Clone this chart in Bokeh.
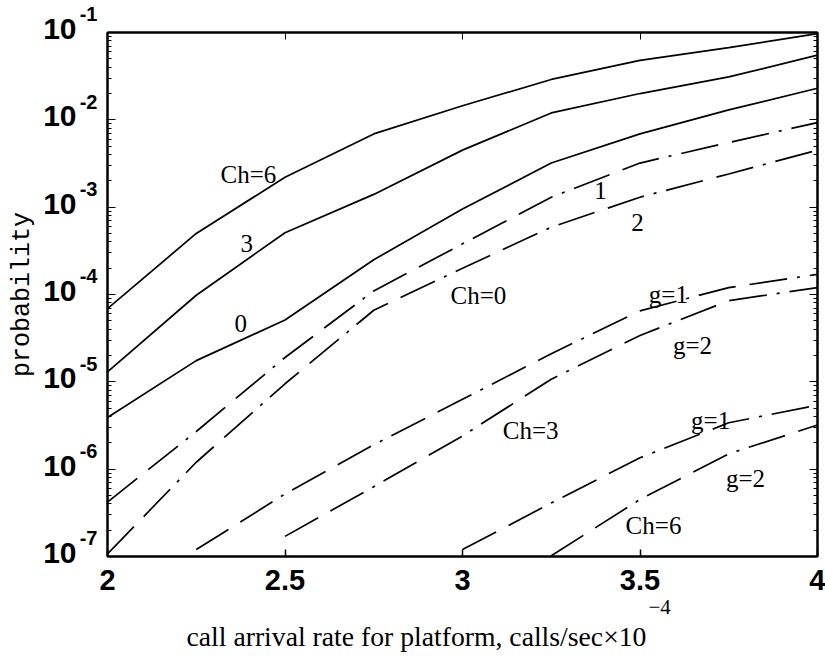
import math
from bokeh.plotting import figure
from bokeh.models import (Label, LogAxis, LinearAxis, FixedTicker, LogTicker, Range1d,
                          CustomJSTickFormatter, Title)
from bokeh.embed import file_html
from bokeh.resources import INLINE

nan = float("nan")

# call arrival rate (x 1e-4 calls/sec)
x_rate = [2.0, 2.25, 2.5, 2.75, 3.0, 3.25, 3.5, 3.75, 4.0]

# solid curves (Ch = 6, 3, 0)
solid_ch6 = [6.9e-5, 5.0e-4, 2.2e-3, 6.9e-3, 1.45e-2, 2.9e-2, 4.8e-2, 6.7e-2, 9.7e-2]
solid_ch3 = [1.3e-5, 9.8e-5, 5.1e-4, 1.4e-3, 4.5e-3, 1.2e-2, 2.0e-2, 3.1e-2, 5.5e-2]
solid_ch0 = [3.9e-6, 1.75e-5, 5.1e-5, 2.5e-4, 9.5e-4, 3.2e-3, 6.9e-3, 1.3e-2, 2.3e-2]

# dashed curves (g = 1, 2) for Ch = 0, 3, 6
ch0_g1 = [4.2e-7, 2.7e-6, 1.9e-5, 1.1e-4, 3.8e-4, 1.3e-3, 3.2e-3, 5.5e-3, 9.3e-3]
ch0_g2 = [1.07e-7, 1.2e-6, 9.5e-6, 6.6e-5, 2.0e-4, 5.9e-4, 1.3e-3, 2.4e-3, 4.5e-3]
ch3_g1 = [nan, 1.2e-7, 5.2e-7, 1.9e-6, 6.3e-6, 2.1e-5, 6.5e-5, 1.2e-4, 1.7e-4]
ch3_g2 = [nan, nan, 1.7e-7, 6.3e-7, 2.4e-6, 1.07e-5, 3.4e-5, 8.5e-5, 1.2e-4]
ch6_g1 = [nan, nan, nan, nan, 1.2e-7, 4.1e-7, 1.35e-6, 3.4e-6, 5.4e-6]
ch6_g2 = [nan, nan, nan, nan, nan, 1.02e-7, 4.5e-7, 1.5e-6, 3.2e-6]

# curve annotations: text, x, y
curve_texts = ["Ch=6", "3", "0", "1", "2", "Ch=0", "g=1", "g=2", "Ch=3", "g=1", "g=2", "Ch=6"]
curve_text_x = [2.397, 2.392, 2.375, 3.389, 3.493, 3.045, 3.580, 3.648, 3.192, 3.699, 3.797, 3.538]
curve_text_y = [2.37e-3, 3.8e-4, 4.7e-5, 1.55e-3, 6.7e-4, 9.7e-5, 1.0e-4, 2.6e-5, 2.8e-6, 3.6e-6, 7.8e-7, 2.26e-7]

x_ticks = [2, 2.5, 3, 3.5, 4]
x_tick_labels = ["2", "2.5", "3", "3.5", "4"]
y_exponents = [-1, -2, -3, -4, -5, -6, -7]
y_ticks = [10.0 ** e for e in y_exponents]

x_title = "call arrival rate for platform, calls/sec\u00d710"
x_title_exp = "\u22124"
y_title = "probability"


def blank():
    return CustomJSTickFormatter(code="return ''")


p = figure(width=825, height=656, y_axis_type="log",
           x_range=Range1d(2, 4), y_range=Range1d(1e-7, 1e-1),
           output_backend="svg", toolbar_location=None,
           min_border_left=107, min_border_right=8,
           min_border_top=32, min_border_bottom=100)

p.background_fill_color = "white"
p.border_fill_color = "white"
p.outline_line_color = "black"
p.outline_line_width = 2
p.grid.visible = False

# bottom axis with tick labels
xa = p.xaxis[0]
xa.ticker = FixedTicker(ticks=x_ticks, minor_ticks=[])
xa.major_label_overrides = {t: l for t, l in zip(x_ticks, x_tick_labels)}
xa.major_label_text_font = "Liberation Sans"
xa.major_label_text_font_style = "bold"
xa.major_label_text_font_size = "29px"
xa.major_label_text_color = "black"
xa.major_label_standoff = 13
xa.major_tick_in = 7
xa.major_tick_out = 0
xa.minor_tick_in = 0
xa.minor_tick_out = 0
xa.axis_line_color = "black"
xa.axis_line_width = 2
xa.major_tick_line_width = 1.5

# left axis: tick marks only
ya = p.yaxis[0]
ya.ticker = LogTicker(num_minor_ticks=10)
ya.formatter = blank()
ya.major_label_standoff = 0
ya.major_tick_in = 8
ya.major_tick_out = 0
ya.minor_tick_in = 4
ya.minor_tick_out = 0
ya.axis_line_color = "black"
ya.axis_line_width = 2

# exponent labels (raised by a blank second line)
exp_axis = LogAxis(ticker=FixedTicker(ticks=y_ticks, minor_ticks=[]),
                   formatter=CustomJSTickFormatter(
                       code="return String(Math.round(Math.log10(tick))) + '\\n\\u00a0'"),
                   major_label_text_font="Liberation Sans",
                   major_label_text_font_style="bold",
                   major_label_text_font_size="20px",
                   major_label_text_line_height=1.65,
                   major_label_text_color="black",
                   major_label_standoff=10,
                   major_tick_in=0, major_tick_out=0, minor_tick_in=0, minor_tick_out=0,
                   axis_line_color=None)
p.add_layout(exp_axis, "left")

# mantissa "10" labels plus axis title
ten_axis = LogAxis(ticker=FixedTicker(ticks=y_ticks, minor_ticks=[]),
                   formatter=CustomJSTickFormatter(code="return '10\\n\\u00a0'"),
                   major_label_text_font="Liberation Sans",
                   major_label_text_font_style="bold",
                   major_label_text_font_size="30px",
                   major_label_text_line_height=0.25,
                   major_label_text_color="black",
                   major_label_standoff=0,
                   major_tick_in=0, major_tick_out=0, minor_tick_in=0, minor_tick_out=0,
                   axis_line_color=None,
                   axis_label=y_title,
                   axis_label_text_font="Liberation Mono",
                   axis_label_text_font_style="normal",
                   axis_label_text_font_size="25px",
                   axis_label_text_color="black",
                   axis_label_standoff=3)
p.add_layout(ten_axis, "left")

top = LinearAxis(ticker=FixedTicker(ticks=x_ticks, minor_ticks=[]),
                 formatter=blank(), major_label_standoff=0,
                 major_tick_in=7, major_tick_out=0, minor_tick_in=0, minor_tick_out=0,
                 axis_line_color="black", axis_line_width=2)
p.add_layout(top, "above")
right = LogAxis(ticker=LogTicker(num_minor_ticks=10),
                formatter=blank(), major_label_standoff=0,
                major_tick_in=8, major_tick_out=0, minor_tick_in=4, minor_tick_out=0,
                axis_line_color="black", axis_line_width=2)
p.add_layout(right, "right")

# x axis title (raised exponent, then main text)
p.add_layout(Title(text=x_title_exp, align="left", offset=541,
                   text_font="Liberation Serif", text_font_size="21px",
                   text_font_style="normal", text_color="black", standoff=10), "below")
p.add_layout(Title(text=x_title, align="left", offset=79,
                   text_font="Liberation Serif", text_font_size="27.7px",
                   text_font_style="normal", text_color="black", standoff=0), "below")

for ys in (solid_ch6, solid_ch3, solid_ch0):
    p.line(x_rate, ys, line_color="black", line_width=1.7)

for ys in (ch0_g1, ch0_g2, ch3_g1, ch3_g2, ch6_g1, ch6_g2):
    p.line(x_rate, ys, line_color="black", line_width=1.7, line_dash="38 14 38 10 3 10")

for t, xx, yy in zip(curve_texts, curve_text_x, curve_text_y):
    p.add_layout(Label(x=xx, y=yy, text=t, text_font="Liberation Serif",
                       text_font_size="25px", text_color="black",
                       text_align="center", text_baseline="middle"))

open("out.html", "w").write(file_html(p, INLINE))
